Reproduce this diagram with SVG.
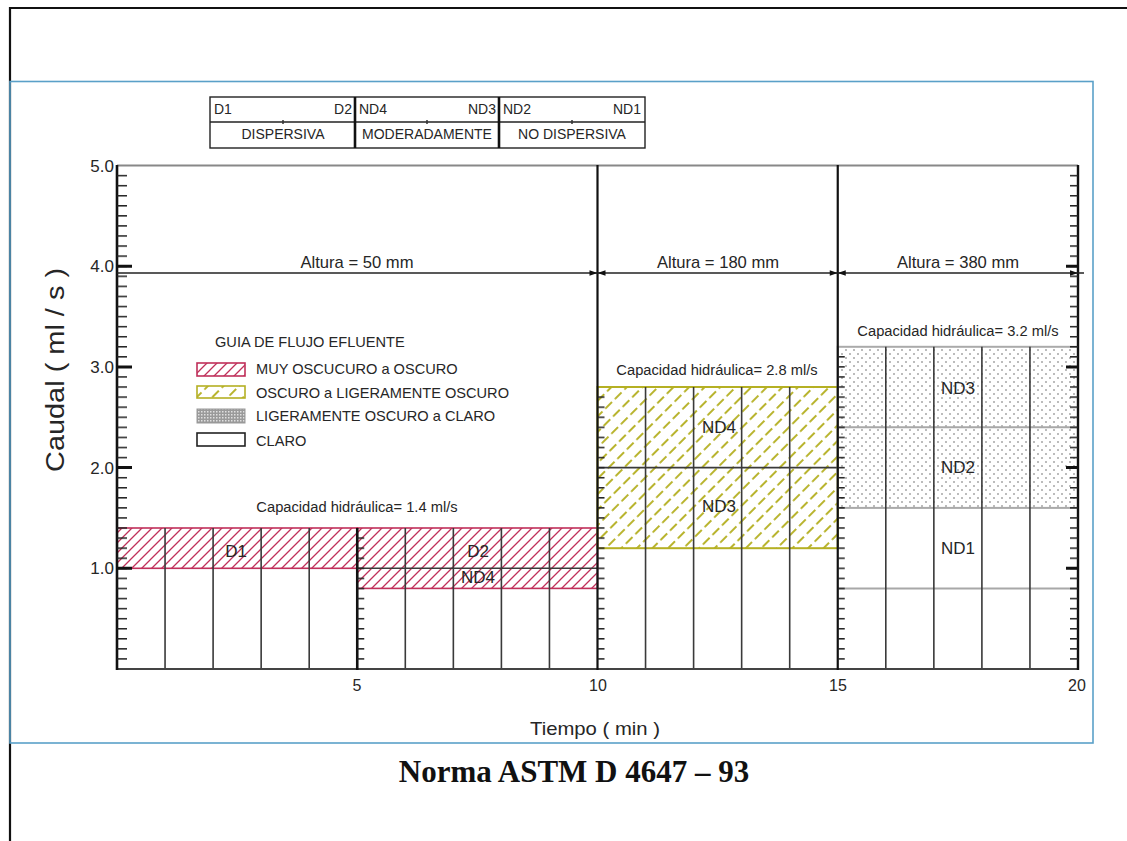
<svg xmlns="http://www.w3.org/2000/svg" width="1127" height="841" viewBox="0 0 1127 841">
<style>
text{font-family:"Liberation Sans",Arial,sans-serif;fill:#262626}
.t14{font-size:14px}
.tl{font-size:14.6px}
.cap{font-size:14.7px}
.alt{font-size:16.6px}
.reg{font-size:17px}
.mid{text-anchor:middle}
.end{text-anchor:end}
.grid{stroke:#3a3a3a;stroke-width:1.6;fill:none}
.thick{stroke:#111;stroke-width:2.2;fill:none}
.gray{stroke:#a8a8a8;stroke-width:2;fill:none}
.tb{stroke:#222;stroke-width:1.4;fill:none}
</style>
<defs>
<pattern id="hatchR" patternUnits="userSpaceOnUse" width="10" height="10">
<path d="M-1,11 L11,-1 M-1,1 L1,-1 M9,11 L11,9" stroke="#c0305a" stroke-width="1.3"/>
</pattern>
<pattern id="hatchY" patternUnits="userSpaceOnUse" width="11" height="13.5" patternTransform="rotate(45)">
<path d="M2,0 V9.5" stroke="#b5b023" stroke-width="1.9"/>
</pattern>
<pattern id="dots" patternUnits="userSpaceOnUse" width="8" height="8">
<circle cx="2" cy="2" r="0.8" fill="#666"/>
<circle cx="6" cy="6" r="0.8" fill="#666"/>
</pattern>
<pattern id="gray" patternUnits="userSpaceOnUse" width="3" height="3">
<rect width="3" height="3" fill="#9a9a9a"/>
<rect width="1.5" height="1.5" fill="#e0e0e0"/>
</pattern>
<pattern id="ticks" patternUnits="userSpaceOnUse" x="0" y="3.63" width="10" height="10.07">
<rect x="0" y="0" width="10" height="1.5" fill="#222"/>
</pattern>
</defs>

<!-- page frame -->
<path d="M10,841 V8 H1127" stroke="#111" stroke-width="2.2" fill="none"/>
<rect x="10" y="81.5" width="1083" height="661.5" fill="none" stroke="#5aa0c8" stroke-width="1.6"/>

<!-- top classification table -->
<g id="table">
<rect x="210" y="97" width="435" height="51" class="tb"/>
<line x1="210" y1="122" x2="645" y2="122" class="tb"/>
<line x1="355" y1="97" x2="355" y2="148" stroke="#111" stroke-width="2.6"/>
<line x1="499" y1="97" x2="499" y2="148" stroke="#111" stroke-width="2.6"/>
<path d="M283,120 v4 M427,120 v4 M572,120 v4" stroke="#333" stroke-width="1.5"/>
<text x="214" y="114" class="t14">D1</text>
<text x="352" y="114" class="t14 end">D2</text>
<text x="359" y="114" class="t14">ND4</text>
<text x="496" y="114" class="t14 end">ND3</text>
<text x="503" y="114" class="t14">ND2</text>
<text x="641" y="114" class="t14 end">ND1</text>
<text x="283" y="139" class="t14 mid">DISPERSIVA</text>
<text x="427" y="139" class="t14 mid">MODERADAMENTE</text>
<text x="572" y="139" class="t14 mid">NO DISPERSIVA</text>
</g>

<!-- regions -->
<g id="region-D1">
<rect x="117" y="528" width="240.25" height="40.3" fill="url(#hatchR)" stroke="#c0305a" stroke-width="1.6"/>
<text x="236" y="557" class="reg mid">D1</text>
</g>
<g id="region-D2-ND4">
<rect x="357.25" y="528" width="240.25" height="60.4" fill="url(#hatchR)" stroke="#c0305a" stroke-width="1.6"/>
<line x1="357.25" y1="568.3" x2="597.5" y2="568.3" class="grid"/>
<text x="478" y="557" class="reg mid">D2</text>
<text x="478" y="583" class="reg mid">ND4</text>
</g>
<g id="region-ND4-ND3">
<rect x="597.5" y="387" width="240.25" height="161.2" fill="url(#hatchY)" stroke="#b5b023" stroke-width="2"/>
<line x1="597.5" y1="467.6" x2="837.75" y2="467.6" class="grid"/>
<text x="719" y="433" class="reg mid">ND4</text>
<text x="719" y="512" class="reg mid">ND3</text>
</g>
<g id="region-ND3-ND2-ND1">
<rect x="837.75" y="346.8" width="240.25" height="161.1" fill="url(#dots)" stroke="#aaa" stroke-width="2"/>
<line x1="837.75" y1="427.3" x2="1078" y2="427.3" class="gray"/>
<line x1="837.75" y1="588.4" x2="1078" y2="588.4" class="gray"/>
<text x="958" y="394" class="reg mid">ND3</text>
<text x="958" y="473" class="reg mid">ND2</text>
<text x="958" y="554" class="reg mid">ND1</text>
</g>

<!-- grid and axes -->
<g id="connectors">
<path class="grid" d="M165.05,528 V669 M213.1,528 V669 M261.15,528 V669 M309.2,528 V669 M405.3,528 V669 M453.35,528 V669 M501.4,528 V669 M549.45,528 V669 M645.55,387 V669 M693.6,387 V669 M741.65,387 V669 M789.7,387 V669 M885.8,346.8 V669 M933.85,346.8 V669 M981.9,346.8 V669 M1029.95,346.8 V669"/>
<line x1="117" y1="165.5" x2="1078" y2="165.5" stroke="#888" stroke-width="1.8"/>
<line x1="117" y1="669" x2="1078" y2="669" stroke="#444" stroke-width="2"/>
<line x1="117" y1="165" x2="117" y2="670" stroke="#111" stroke-width="2.6"/>
<line x1="1078" y1="165" x2="1078" y2="670" stroke="#111" stroke-width="2.4"/>
<line x1="357.25" y1="528" x2="357.25" y2="670" stroke="#111" stroke-width="2.6"/>
<line x1="597.5" y1="165" x2="597.5" y2="670" class="thick"/>
<line x1="837.75" y1="165" x2="837.75" y2="670" class="thick"/>
<rect x="117" y="170" width="10" height="498" fill="url(#ticks)"/>
<rect x="1070" y="170" width="8" height="498" fill="url(#ticks)"/>
<rect x="357.25" y="532" width="7" height="136" fill="url(#ticks)"/>
<rect x="597.5" y="391" width="7" height="277" fill="url(#ticks)"/>
<rect x="837.75" y="350" width="7" height="318" fill="url(#ticks)"/>
<path d="M117,266.2 h15 M117,366.9 h15 M117,467.6 h15 M117,568.3 h15 M1078,266.2 h-12 M1078,366.9 h-12 M1078,467.6 h-12 M1078,568.3 h-12" stroke="#111" stroke-width="3"/>
<line x1="117" y1="273" x2="1084" y2="273" stroke="#222" stroke-width="1.6"/>
<path d="M597.5,273 l-8,-2.8 v5.6 z M597.5,273 l8,-2.8 v5.6 z M837.75,273 l-8,-2.8 v5.6 z M837.75,273 l8,-2.8 v5.6 z M1078,273 l-8,-2.8 v5.6 z" fill="#111"/>
</g>

<!-- labels -->
<g id="labels">
<text x="357" y="268" class="alt mid">Altura = 50 mm</text>
<text x="718" y="268" class="alt mid">Altura = 180 mm</text>
<text x="958" y="268" class="alt mid">Altura = 380 mm</text>
<text x="357" y="512" class="cap mid">Capacidad hidráulica= 1.4 ml/s</text>
<text x="717" y="375" class="cap mid">Capacidad hidráulica= 2.8 ml/s</text>
<text x="958" y="336" class="cap mid">Capacidad hidráulica= 3.2 ml/s</text>
<text x="114" y="172" class="end" style="font-size:17px">5.0</text>
<text x="114" y="272" class="end" style="font-size:17px">4.0</text>
<text x="114" y="373" class="end" style="font-size:17px">3.0</text>
<text x="114" y="474" class="end" style="font-size:17px">2.0</text>
<text x="114" y="574" class="end" style="font-size:17px">1.0</text>
<text x="357" y="691" class="mid" style="font-size:16px">5</text>
<text x="598" y="691" class="mid" style="font-size:16px">10</text>
<text x="838" y="691" class="mid" style="font-size:16px">15</text>
<text x="1077" y="691" class="mid" style="font-size:16px">20</text>
<text x="595" y="735" class="mid" style="font-size:19px" textLength="130" lengthAdjust="spacingAndGlyphs">Tiempo ( min )</text>
<text transform="translate(64,370) rotate(-90)" class="mid" style="font-size:25px" textLength="204" lengthAdjust="spacingAndGlyphs">Caudal ( ml / s )</text>
</g>

<!-- legend -->
<g id="legend">
<text x="215" y="347" class="tl">GUIA DE FLUJO EFLUENTE</text>
<rect x="197" y="363" width="48" height="13" fill="url(#hatchR)" stroke="#c0305a" stroke-width="1.6"/>
<rect x="197" y="386" width="48" height="12" fill="url(#hatchY)" stroke="#b5b023" stroke-width="1.6"/>
<rect x="197" y="409" width="48" height="14" fill="url(#gray)" stroke="#999" stroke-width="1"/>
<rect x="197" y="433" width="48" height="13" fill="#fff" stroke="#222" stroke-width="1.6"/>
<text x="256" y="374" class="tl">MUY OSCUCURO a OSCURO</text>
<text x="256" y="398" class="tl">OSCURO a LIGERAMENTE OSCURO</text>
<text x="256" y="421" class="tl">LIGERAMENTE OSCURO a CLARO</text>
<text x="256" y="446" class="tl">CLARO</text>
</g>

<text x="574" y="782" style="font-family:'Liberation Serif','Times New Roman',serif;font-size:31px;font-weight:bold;fill:#111" class="mid">Norma ASTM D 4647 – 93</text>
</svg>
